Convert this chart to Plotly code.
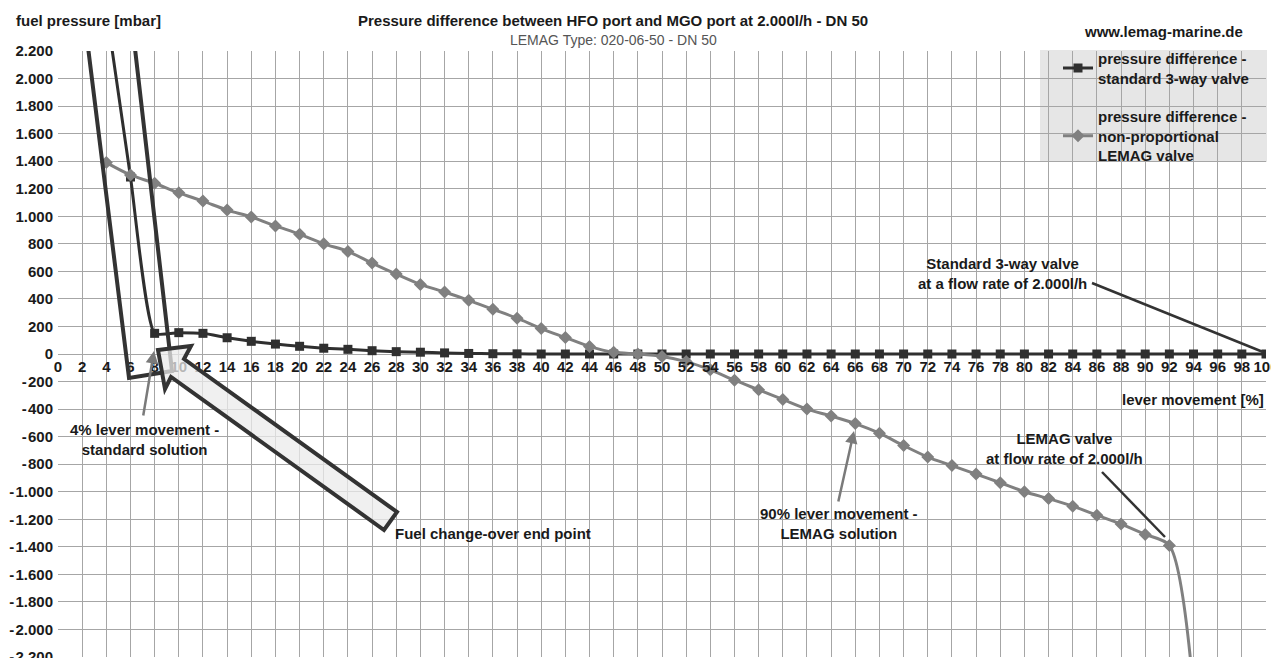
import plotly.graph_objects as go

# ---------------- data ----------------
lever_std = [4, 6, 8, 10, 12, 14, 16, 18, 20, 22, 24, 26, 28, 30, 32, 34, 36, 38, 40,
             42, 44, 46, 48, 50, 52, 54, 56, 58, 60, 62, 64, 66, 68, 70, 72, 74, 76, 78,
             80, 82, 84, 86, 88, 90, 92, 94, 96, 98, 100]
dp_std = [2500, 1285, 150, 155, 150, 118, 92, 72, 56, 42, 34, 24, 17, 13, 8, 4, 2, 1, 0,
          0, 0, 0, 0, 0, 0, 0, 0, 0, 0, 0, 0, 0, 0, 0, 0, 0, 0, 0,
          0, 0, 0, 0, 0, 0, 0, 0, 0, 0, 0]

lever_lemag = [4, 6, 8, 10, 12, 14, 16, 18, 20, 22, 24, 26, 28, 30, 32, 34, 36, 38, 40,
               42, 44, 46, 48, 50, 52, 54, 56, 58, 60, 62, 64, 66, 68, 70, 72, 74, 76, 78,
               80, 82, 84, 86, 88, 90, 92, 94]
dp_lemag = [1390, 1300, 1240, 1170, 1110, 1045, 995, 930, 870, 800, 745, 660, 580, 505, 450,
            390, 325, 260, 185, 120, 55, 12, 0, -18, -55, -115, -190, -260, -330, -400,
            -450, -505, -575, -665, -748, -810, -872, -935, -1000, -1050, -1105, -1170,
            -1235, -1310, -1390, -2450]

x_ticks = list(range(0, 101, 2))
y_ticks = list(range(-2200, 2201, 200))


def fmt_y(v):
    s = f"{abs(v):,}".replace(",", ".")
    return ("-\u200a" + s) if v < 0 else s


y_ticktext = [fmt_y(v) for v in y_ticks]

# ---------------- geometry helpers ----------------
# The page body adds an 8px offset, so the figure is made 8px smaller and all
# reference pixel positions are shifted by that offset.
OFF = 8
W, H = 1279 - OFF, 658 - OFF
L, R, T, B = 58 - OFF, 13, 51 - OFF, 1
PW, PH = W - L - R, H - T - B


def dx(px):
    return (px - OFF - L) / PW * 100


def dy(py):
    return 2200 - (py - OFF - T) / PH * 4400


def pxp(px):
    return (px - OFF - L) / PW


def pyp(py):
    return (H - B - (py - OFF)) / PH


FONT = "Liberation Sans, Arial, sans-serif"
TXT = "#1a1a1a"

fig = go.Figure()
fig.add_trace(go.Scatter(
    x=lever_std, y=dp_std, mode="lines+markers",
    name="<b>pressure difference -<br>standard 3-way valve</b>",
    legendgroup="a",
    line=dict(color="#2f2f2f", width=3, shape="spline", smoothing=0.5),
    marker=dict(symbol="square", size=9, color="#2f2f2f"),
))
fig.add_trace(go.Scatter(
    x=lever_lemag, y=dp_lemag, mode="lines+markers",
    name="<b>pressure difference -<br>non-proportional<br>LEMAG valve</b>",
    legendgroup="b",
    line=dict(color="#808080", width=3, shape="spline", smoothing=0.8),
    marker=dict(symbol="diamond", size=10, color="#808080"),
))


def path(points):
    return "M " + " L ".join(f"{dx(a):.4f},{dy(b):.2f}" for a, b in points) + " Z"


shapes = []
# legend background box
shapes.append(dict(type="rect", xref="paper", yref="paper",
                   x0=pxp(1040), x1=pxp(1267), y0=pyp(162), y1=pyp(50),
                   fillcolor="#e6e6e6", line=dict(width=0), layer="between"))
# tilted frame around the standard curve drop
shapes.append(dict(type="path", xref="x", yref="y",
                   path=path([(88, 47), (134, 40), (172, 371), (129, 378)]),
                   line=dict(color="#333333", width=4), fillcolor="rgba(0,0,0,0)",
                   layer="above"))
# block arrow "Fuel change-over end point"
shapes.append(dict(type="path", xref="x", yref="y",
                   path=path([(158, 350), (191, 346), (184, 359), (397, 512),
                              (384, 530), (171, 377), (165, 389)]),
                   line=dict(color="#333333", width=4), fillcolor="rgba(235,235,235,0.75)",
                   layer="above"))
# pointer lines
shapes.append(dict(type="line", xref="x", yref="y",
                   x0=dx(1092), y0=dy(283), x1=dx(1263), y1=dy(352),
                   line=dict(color="#333333", width=2.5), layer="above"))
shapes.append(dict(type="line", xref="x", yref="y",
                   x0=dx(1102), y0=dy(472), x1=dx(1165), y1=dy(537),
                   line=dict(color="#333333", width=2.5), layer="above"))

ann = []


def text(px, py, s, size=15, bold=True, xanchor="center", color=TXT):
    ann.append(dict(xref="paper", yref="paper", x=pxp(px), y=pyp(py),
                    text=(f"<b>{s}</b>" if bold else s), showarrow=False,
                    xanchor=xanchor, yanchor="middle",
                    font=dict(family=FONT, size=size, color=color)))


text(14, 21, "fuel pressure [mbar]", xanchor="left")
text(613, 20, "Pressure difference between HFO port and MGO port at 2.000l/h - DN 50", size=15)
text(613, 40, "LEMAG Type: 020-06-50 - DN 50", size=14, bold=False, color="#555555")
text(1163, 32, "www.lemag-marine.de")
text(1266, 400, "lever movement [%]", xanchor="right")
text(1002, 273, "Standard 3-way valve<br>at a flow rate of 2.000l/h")
text(1064, 448, "LEMAG valve<br>at flow rate of 2.000l/h")
text(144, 439, "4% lever movement -<br>standard solution")
text(839, 523, "90% lever movement -<br>LEMAG solution")
text(393, 533, "Fuel change-over end point", xanchor="left")

for (tx, ty), (hx, hy) in [((143, 417), (154, 351)), ((838, 503), (854, 431))]:
    ann.append(dict(xref="x", yref="y", axref="x", ayref="y",
                    x=dx(hx), y=dy(hy), ax=dx(tx), ay=dy(ty), text="",
                    showarrow=True, arrowhead=2, arrowsize=1, arrowwidth=2.5,
                    arrowcolor="#7a7a7a"))

fig.update_layout(
    width=W, height=H,
    margin=dict(l=L, r=R, t=T, b=B, pad=0, autoexpand=False),
    paper_bgcolor="white", plot_bgcolor="white",
    font=dict(family=FONT, size=15, color=TXT),
    showlegend=True,
    legend=dict(x=pxp(1058), y=pyp(42), xanchor="left", yanchor="top",
                bgcolor="rgba(0,0,0,0)", borderwidth=0,
                font=dict(family=FONT, size=15, color=TXT),
                tracegroupgap=16, itemwidth=30),
    shapes=shapes, annotations=ann,
    xaxis=dict(range=[0, 100], tickvals=x_ticks, ticktext=[str(v) for v in x_ticks],
               showgrid=True, gridcolor="#a6a6a6", gridwidth=1, zeroline=False,
               showline=False, ticks="", anchor="free", position=0.5, automargin=False,
               tickfont=dict(family=FONT, size=15, color=TXT, weight="bold"),
               tickangle=0, ticklabelstandoff=2, ticklabeloverflow="allow"),
    yaxis=dict(range=[-2200, 2200], tickvals=y_ticks, ticktext=y_ticktext,
               showgrid=True, gridcolor="#a6a6a6", gridwidth=1, zeroline=False,
               showline=False, ticks="", ticklabelstandoff=4, automargin=False,
               ticklabeloverflow="allow",
               tickfont=dict(family=FONT, size=15, color=TXT, weight="bold")),
)

fig.write_html("out.html")
